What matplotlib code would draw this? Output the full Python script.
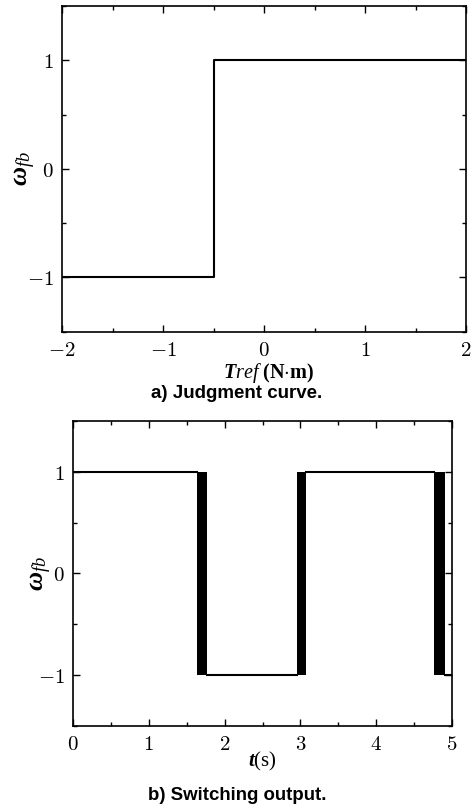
import matplotlib
matplotlib.use("Agg")
import matplotlib.pyplot as plt
from matplotlib.ticker import MultipleLocator

plt.rcParams['mathtext.fontset'] = 'custom'
plt.rcParams['mathtext.rm'] = 'Liberation Serif'
plt.rcParams['mathtext.it'] = 'Liberation Serif:italic'
plt.rcParams['mathtext.bf'] = 'Liberation Serif:italic:bold'
plt.rcParams['mathtext.sf'] = 'Liberation Serif:bold'

# (a) judgment curve
torque = [-2.0, -0.5, -0.5, 2.0]
omega_judge = [-1, -1, 1, 1]
xticks_a = [-2, -1, 0, 1, 2]

# (b) switching output: steady segments and chattering bands
t_steady = [0.0, 1.63, None, 1.77, 2.95, None, 3.08, 4.76, None, 4.91, 5.0]
w_steady = [1, 1, None, -1, -1, None, 1, 1, None, -1, -1]
chatter_start = [1.63, 2.95, 4.76]
chatter_end = [1.77, 3.08, 4.91]
xticks_b = [0, 1, 2, 3, 4, 5]

yticks = [-1, 0, 1]


def tick_labels(vals):
    return ['$%s$' % ('-%d' % -v if v < 0 else '%d' % v) for v in vals]


def style_axes(ax):
    ax.tick_params(which='both', direction='in', top=True, right=True,
                   width=1.0, labelsize=15, pad=6)
    ax.tick_params(which='major', length=5)
    ax.tick_params(which='minor', length=3)
    for s in ax.spines.values():
        s.set_linewidth(1.2)
    for lab in ax.get_xticklabels() + ax.get_yticklabels():
        lab.set_math_fontfamily('cm')


fig = plt.figure(figsize=(4.76, 8.08), dpi=100)

# top panel
ax1 = fig.add_axes([62 / 476, 1 - 331.5 / 808, 404 / 476, 325.5 / 808])
ax1.plot(torque, omega_judge, color='black', lw=1.5)
ax1.set_xlim(-2, 2)
ax1.set_ylim(-1.5, 1.5)
ax1.set_xticks(xticks_a, tick_labels(xticks_a))
ax1.set_yticks(yticks, tick_labels(yticks))
ax1.xaxis.set_minor_locator(MultipleLocator(0.5))
ax1.yaxis.set_minor_locator(MultipleLocator(0.5))
style_axes(ax1)
ax1.set_xlabel(r'$\mathbf{T}\mathit{ref}\ \mathsf{(N{\cdot}m)}$', fontsize=14.5, va='center')
ax1.xaxis.set_label_coords(0.51, -0.126)
ax1.set_ylabel(r'$\mathbf{\omega}_{\mathit{fb}}$', fontsize=19, va='center')
ax1.yaxis.set_label_coords(-0.092, 0.5)

fig.text(237 / 476, 1 - 393 / 808, 'a) Judgment curve.', ha='center', va='center',
         fontsize=13.5, fontweight='bold', family='Liberation Sans')

# bottom panel
ax2 = fig.add_axes([73 / 476, 1 - 725.7 / 808, 379 / 476, 304.7 / 808])
ax2.plot(t_steady, w_steady, color='black', lw=1.5)
for s, e in zip(chatter_start, chatter_end):
    ax2.fill_between([s, e], -1, 1, color='black', lw=0)
ax2.set_xlim(0, 5)
ax2.set_ylim(-1.5, 1.5)
ax2.set_xticks(xticks_b, tick_labels(xticks_b))
ax2.set_yticks(yticks, tick_labels(yticks))
ax2.xaxis.set_minor_locator(MultipleLocator(0.5))
ax2.yaxis.set_minor_locator(MultipleLocator(0.5))
style_axes(ax2)
ax2.set_xlabel(r'$\mathbf{t}\mathrm{(s)}$', fontsize=15, va='center')
ax2.xaxis.set_label_coords(0.5, -0.1175)
ax2.set_ylabel(r'$\mathbf{\omega}_{\mathit{fb}}$', fontsize=19, va='center')
ax2.yaxis.set_label_coords(-0.084, 0.5)

fig.text(237 / 476, 1 - 796 / 808, 'b) Switching output.', ha='center', va='center',
         fontsize=13.4, fontweight='bold', family='Liberation Sans')

fig.savefig('out.png', dpi=100)
